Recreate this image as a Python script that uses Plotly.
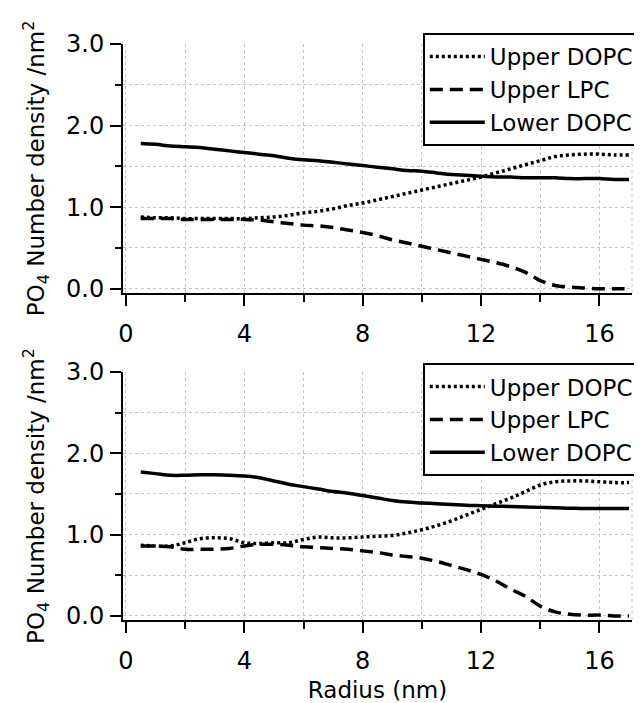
import plotly.graph_objects as go

# radius bins (nm)
radius = [0.5 * i for i in range(1, 35)]

# top panel
top_upper_dopc = [0.88, 0.87, 0.87, 0.86, 0.86, 0.86, 0.86, 0.86, 0.87, 0.88, 0.90, 0.93, 0.95, 0.98, 1.02, 1.05, 1.09,
                  1.13, 1.17, 1.21, 1.25, 1.29, 1.33, 1.37, 1.42, 1.47, 1.52, 1.57, 1.62, 1.64, 1.65, 1.65, 1.64, 1.64]
top_upper_lpc = [0.86, 0.86, 0.86, 0.85, 0.85, 0.85, 0.85, 0.85, 0.84, 0.82, 0.80, 0.78, 0.77, 0.75, 0.72, 0.69, 0.65,
                 0.60, 0.56, 0.52, 0.48, 0.44, 0.40, 0.36, 0.32, 0.27, 0.20, 0.10, 0.04, 0.02, 0.01, 0.00, 0.00, 0.00]
top_lower_dopc = [1.78, 1.77, 1.75, 1.74, 1.73, 1.71, 1.69, 1.67, 1.65, 1.63, 1.60, 1.58, 1.57, 1.55, 1.53, 1.51, 1.49,
                  1.47, 1.45, 1.44, 1.42, 1.40, 1.39, 1.38, 1.37, 1.37, 1.36, 1.36, 1.36, 1.35, 1.35, 1.35, 1.34, 1.34]

# bottom panel
bot_upper_dopc = [0.87, 0.86, 0.86, 0.90, 0.95, 0.96, 0.95, 0.90, 0.89, 0.90, 0.90, 0.94, 0.97, 0.96, 0.96, 0.97, 0.98,
                  0.99, 1.02, 1.06, 1.11, 1.17, 1.24, 1.31, 1.38, 1.45, 1.53, 1.61, 1.65, 1.66, 1.66, 1.65, 1.64, 1.64]
bot_upper_lpc = [0.86, 0.86, 0.85, 0.82, 0.82, 0.82, 0.83, 0.86, 0.88, 0.88, 0.87, 0.85, 0.84, 0.83, 0.82, 0.80, 0.78,
                 0.75, 0.73, 0.71, 0.67, 0.62, 0.57, 0.51, 0.43, 0.33, 0.24, 0.12, 0.05, 0.02, 0.01, 0.01, 0.00, 0.00]
bot_lower_dopc = [1.77, 1.75, 1.73, 1.73, 1.735, 1.735, 1.73, 1.72, 1.70, 1.66, 1.62, 1.59, 1.56, 1.53, 1.51, 1.48, 1.45,
                  1.42, 1.40, 1.39, 1.38, 1.37, 1.36, 1.355, 1.35, 1.345, 1.34, 1.335, 1.33, 1.325, 1.32, 1.32, 1.32, 1.32]

series_names = ['Upper DOPC', 'Upper LPC', 'Lower DOPC']
dashes = ['3px,3px', '13px,7px', 'solid']

FONT = 'DejaVu Sans'
fig = go.Figure()

panels = [
    ('x', 'y', 'legend', [top_upper_dopc, top_upper_lpc, top_lower_dopc]),
    ('x2', 'y2', 'legend2', [bot_upper_dopc, bot_upper_lpc, bot_lower_dopc]),
]
for xa, ya, leg, ys in panels:
    for name, dash, vals in zip(series_names, dashes, ys):
        fig.add_trace(go.Scatter(x=radius, y=vals, name=name, mode='lines', xaxis=xa, yaxis=ya, legend=leg,
                                 line=dict(color='black', width=3.5, dash=dash, shape='spline')))
    # dotted frame on the right side
    fig.add_shape(type='line', xref=xa + ' domain', yref=ya + ' domain', x0=1, x1=1, y0=0, y1=1,
                  line=dict(color='#c4c4c4', width=1, dash='dot'), layer='below')

grid = dict(showgrid=True, gridcolor='#c4c4c4', gridwidth=1, griddash='dot')

xcommon = dict(range=[-0.1, 17.1], tick0=0, dtick=4, ticks='outside', ticklen=11, tickwidth=2, tickcolor='black',
               showline=True, linecolor='black', linewidth=2, zeroline=False, ticklabelstandoff=7,
               tickfont=dict(size=24, color='black'),
               minor=dict(dtick=2, ticks='outside', ticklen=7, tickwidth=2, tickcolor='black', **grid), **grid)
ycommon = dict(range=[-0.05, 3.0], tick0=0, dtick=1, tickformat='.1f', ticks='outside', ticklen=11, tickwidth=2,
               tickcolor='black', showline=True, linecolor='black', linewidth=2, zeroline=False, ticklabelstandoff=1,
               tickfont=dict(size=24, color='black'),
               title=dict(text='PO<sub>4</sub> Number density /nm<sup>2</sup>', font=dict(size=23, color='black'),
                          standoff=15),
               minor=dict(dtick=0.5, ticks='outside', ticklen=6, tickwidth=2, tickcolor='black', **grid), **grid)

legcommon = dict(font=dict(size=23, color='black'), bgcolor='white', bordercolor='black', borderwidth=2,
                 xanchor='left', yanchor='top', itemwidth=55, tracegroupgap=0)

# the page body has an 8px margin, so the figure is 8px smaller each way
fig.update_layout(
    width=634, height=695,
    margin=dict(l=115, r=10, t=36, b=83, autoexpand=False),
    paper_bgcolor='white', plot_bgcolor='white',
    font=dict(family=FONT, color='black'),
    xaxis=dict(domain=[0, 1], anchor='y', **xcommon),
    yaxis=dict(domain=[0.568, 1], anchor='x', **ycommon),
    xaxis2=dict(domain=[0, 1], anchor='y2', title=dict(text='Radius (nm)', font=dict(size=23, color='black'),
                                                        standoff=8), **xcommon),
    yaxis2=dict(domain=[0, 0.4306], anchor='x2', **ycommon),
    legend=dict(x=0.589, y=1.019, **legcommon),
    legend2=dict(x=0.589, y=0.446, **legcommon),
)

fig.write_html('out.html')
